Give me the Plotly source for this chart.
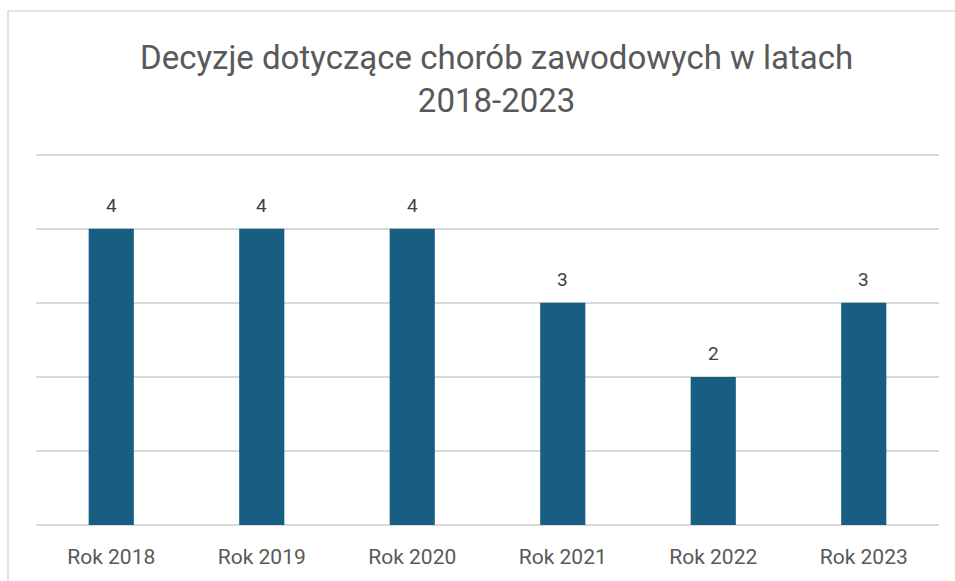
import plotly.graph_objects as go

categories = ["Rok 2018", "Rok 2019", "Rok 2020", "Rok 2021", "Rok 2022", "Rok 2023"]
values = [4, 4, 4, 3, 2, 3]
title_text = "Decyzje dotyczące chorób zawodowych w latach<br>2018-2023"

W, H = 955, 581
L, R, T, B = 36, 16, 151, 56
YMAX = 5.05
plot_w = W - L - R
plot_h = H - T - B
FONT = "Roboto, Arial, sans-serif"


def py(px):
    """pixel row -> paper y"""
    return (H - B - px) / plot_h


def pxx(px):
    return (px - L) / plot_w


fig = go.Figure(
    go.Bar(
        x=categories,
        y=values,
        marker=dict(color="#175E82", line=dict(width=0)),
        hoverinfo="x+y",
    )
)

for c, v in zip(categories, values):
    fig.add_annotation(
        x=c, y=v, text=str(v), showarrow=False,
        yanchor="bottom", yshift=10,
        font=dict(family=FONT, size=19, color="#404040"),
    )

fig.add_annotation(
    text=title_text, xref="paper", yref="paper",
    x=pxx(496.5), y=py(78.5), xanchor="center", yanchor="middle",
    showarrow=False, align="center",
    font=dict(family=FONT, size=33, color="#595959"),
)

fig.update_layout(
    width=W,
    height=H,
    margin=dict(l=L, r=R, t=T, b=B),
    paper_bgcolor="white",
    plot_bgcolor="white",
    bargap=0.7,
    showlegend=False,
    xaxis=dict(
        showgrid=False,
        showline=False,
        zeroline=False,
        ticks="",
        ticklabelstandoff=17,
        tickfont=dict(family=FONT, size=21, color="#595959"),
    ),
    yaxis=dict(
        range=[0, YMAX],
        dtick=1,
        showgrid=True,
        gridcolor="#d9d9d9",
        gridwidth=1.5,
        zeroline=True,
        zerolinecolor="#d9d9d9",
        zerolinewidth=1.5,
        showticklabels=False,
        ticks="",
    ),
    shapes=[
        dict(
            type="rect",
            xref="paper",
            yref="paper",
            x0=pxx(8),
            x1=1.2,
            y0=-0.3,
            y1=py(11),
            line=dict(color="#d9d9d9", width=1.5),
            fillcolor="rgba(0,0,0,0)",
            layer="below",
        )
    ],
)

fig.write_html(
    "out.html",
    config={"displayModeBar": False},
    post_script="document.body.style.margin='0';document.body.style.padding='0';",
)
